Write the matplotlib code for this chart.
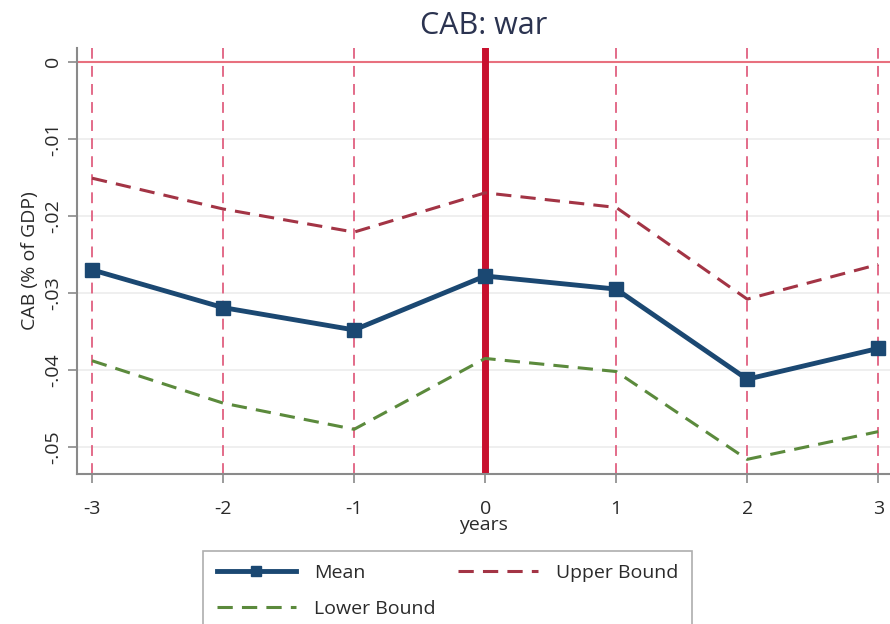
import numpy as np
import matplotlib
matplotlib.use('Agg')
import matplotlib.pyplot as plt

plt.rcParams['font.family'] = ['Open Sans', 'DejaVu Sans']

years = [-3, -2, -1, 0, 1, 2, 3]
mean_cab = [-0.0270, -0.0319, -0.0348, -0.0278, -0.0295, -0.0412, -0.0372]
upper_cab = [-0.0151, -0.0191, -0.0221, -0.0170, -0.0189, -0.0308, -0.0263]
lower_cab = [-0.0388, -0.0443, -0.0477, -0.0385, -0.0402, -0.0516, -0.0480]
yticks = [0, -0.01, -0.02, -0.03, -0.04, -0.05]
ytick_labels = ['0', '-.01', '-.02', '-.03', '-.04', '-.05']

fig = plt.figure(figsize=(8.9, 6.24), dpi=100)
ax = fig.add_axes([0.0865, 0.2404, 0.9135, 0.6827])

# grid + reference lines
for y in yticks:
    ax.axhline(y, color='#ececec', lw=1.2, zorder=0)
for x in years:
    ax.axvline(x, color='#e06080', lw=1.3, ls=(0, (6, 4)), zorder=1)
ax.axhline(0, color='#e8707e', lw=1.5, zorder=2)
ax.axvline(0, color='#c8102e', lw=5, zorder=2)

ax.plot(years, mean_cab, color='#1b4872', lw=3.5, marker='s', ms=10,
        label='Mean', zorder=5)
ax.plot(years, lower_cab, color='#5b8a3c', lw=2.2, ls=(0, (5, 3)),
        label='Lower Bound', zorder=4)
ax.plot(years, upper_cab, color='#a33445', lw=2.2, ls=(0, (5, 3)),
        label='Upper Bound', zorder=4)

ax.set_xlim(-3.115, 3.09)
ax.set_ylim(-0.0535, 0.0018)
ax.set_xticks(years)
ax.set_xticklabels([str(y) for y in years], fontsize=14)
ax.set_yticks(yticks)
ax.set_yticklabels(ytick_labels, fontsize=14, rotation=90, va='center')
ax.tick_params(axis='both', direction='out', length=6.5, width=1.2,
               color='#8a8a8a', labelcolor='#2a2a2a')
ax.tick_params(axis='x', pad=12)
ax.tick_params(axis='y', pad=4)

for s in ['top', 'right']:
    ax.spines[s].set_visible(False)
for s in ['left', 'bottom']:
    ax.spines[s].set_color('#8a8a8a')
    ax.spines[s].set_linewidth(1.5)

ax.set_xlabel('years', fontsize=14, labelpad=-1, color='#2a2a2a')
ax.set_ylabel('CAB (% of GDP)', fontsize=14, labelpad=4, color='#2a2a2a')
ax.set_title('CAB: war', fontsize=22, color='#2b3350', pad=10)

leg = ax.legend(loc='upper left', ncol=2, mode='expand',
                bbox_to_anchor=(0.228, -0.1, 0.549, 0.2177),
                bbox_transform=fig.transFigure, borderaxespad=0,
                fontsize=14, handlelength=4.1, handletextpad=0.9,
                markerscale=0.7, frameon=True, fancybox=False,
                edgecolor='#9a9a9a', borderpad=0.7, labelspacing=0.9)
leg.get_frame().set_linewidth(1.2)
for t in leg.get_texts():
    t.set_color('#2a2a2a')

fig.savefig('out.png', dpi=100)
